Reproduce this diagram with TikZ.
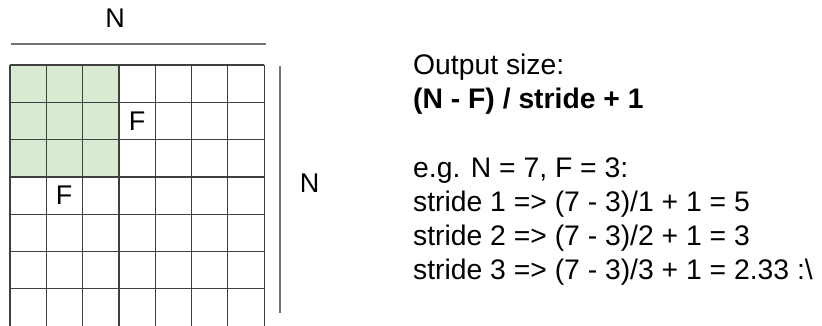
\documentclass[tikz,border=0pt]{standalone}
\usepackage{fontspec}
\setmainfont{Liberation Sans}
\definecolor{filtergreen}{HTML}{D9EAD3}
\tikzset{
  cellline/.style={draw=black!75, line width=1.2pt},
  dimline/.style={draw=black!55, line width=1.6pt},
  dimlabel/.style={font=\fontsize{27}{32}\selectfont, inner sep=0pt, anchor=base},
  textblock/.style={font=\fontsize{28.3}{34}\selectfont, inner sep=0pt, anchor=base west, align=left}
}
\begin{document}
\begin{tikzpicture}[x=1pt,y=-1pt]
  \useasboundingbox (0,0) rectangle (822,326);
  % input 7x7 and filter 3x3
  \coordinate (inTL) at (10,65);
  \coordinate (fltBR) at (118.9,177);
  \fill[filtergreen] (inTL) rectangle (fltBR);
  \foreach \i in {0,...,7} \draw[cellline] (10+\i*36.3,65) -- (10+\i*36.3,326.1);
  \foreach \j in {0,...,7} \draw[cellline] (10,65+\j*37.3) -- (264.1,65+\j*37.3);
  \node[dimlabel] (Fa) at (137,131) {F};
  \node[dimlabel] (Fb) at (64.2,204.3) {F};
  % sizes
  \coordinate (topL) at (11,44.3);
  \coordinate (topR) at (266,44.3);
  \coordinate (sideT) at (279.7,65.7);
  \coordinate (sideB) at (279.7,312.7);
  \draw[dimline] (topL) -- (topR);
  \draw[dimline] (sideT) -- (sideB);
  \node[dimlabel] (Ntop) at (115,27.3) {N};
  \node[dimlabel] (Nside) at (309.7,193) {N};
  % formula (base = last line)
  \node[textblock] (size) at (413,109) {Output size:\\\textbf{(N - F) / stride + 1}};
  \node[textblock] (eg) at (413,279) {e.g. N = 7, F = 3:\\
    stride 1 => (7 - 3)/1 + 1 = 5\\
    stride 2 => (7 - 3)/2 + 1 = 3\\
    stride 3 => (7 - 3)/3 + 1 = 2.33 :\textbackslash};
\end{tikzpicture}
\end{document}
